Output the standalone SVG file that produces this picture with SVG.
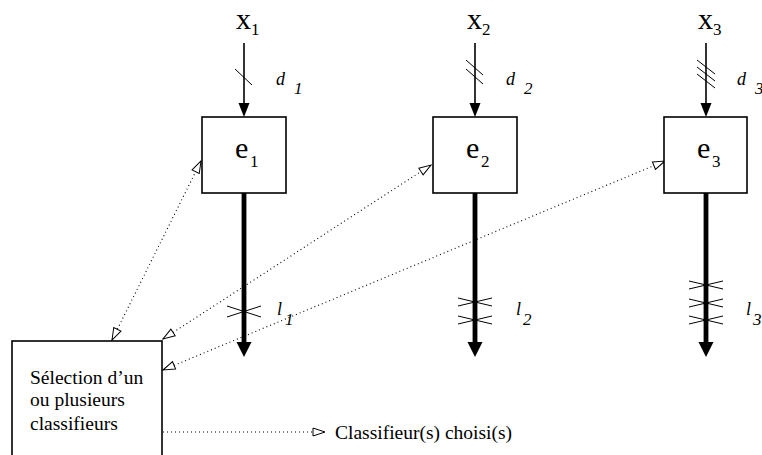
<svg xmlns="http://www.w3.org/2000/svg" width="762" height="455" viewBox="0 0 762 455">
<style>
  .box { fill: #fff; stroke: #000; stroke-width: 1.6; }
  text { font-family: "Liberation Serif", "DejaVu Serif", serif; fill: #000; }
  .big { font-size: 30px; }
  .sub { font-size: 17px; }
  .it { font-style: italic; font-size: 17px; }
  .itb { font-style: italic; font-size: 18px; }
  .lbl { font-size: 19.5px; }
  .in { stroke: #000; stroke-width: 1.6; fill: none; }
  .out { stroke: #000; stroke-width: 4.8; fill: none; }
  .tick { stroke: #000; stroke-width: 1; fill: none; }
  .dot { stroke: #000; stroke-width: 1.1; stroke-dasharray: 1 3; fill: none; }
  .dotarr { marker-end: url(#open); }
  .dotboth { marker-start: url(#openS); marker-end: url(#open); }
</style>
<defs>
  <marker id="open" markerUnits="userSpaceOnUse" markerWidth="16" markerHeight="12" refX="13" refY="5" orient="auto" overflow="visible">
    <path d="M1,1 L13,5 L1,9 Z" fill="#fff" stroke="#000" stroke-width="1" stroke-dasharray="none"/>
  </marker>
  <marker id="openS" markerUnits="userSpaceOnUse" markerWidth="16" markerHeight="12" refX="13" refY="5" orient="auto-start-reverse" overflow="visible">
    <path d="M1,1 L13,5 L1,9 Z" fill="#fff" stroke="#000" stroke-width="1" stroke-dasharray="none"/>
  </marker>
</defs>

<g id="connectors">
  <line class="in" x1="244" y1="43" x2="244" y2="104"/>
  <path d="M238.5,103 L249.5,103 L244,117 Z" fill="#000"/>
  <line class="in" x1="475" y1="43" x2="475" y2="104"/>
  <path d="M469.5,103 L480.5,103 L475,117 Z" fill="#000"/>
  <line class="in" x1="706" y1="43" x2="706" y2="104"/>
  <path d="M700.5,103 L711.5,103 L706,117 Z" fill="#000"/>
  <line class="tick" x1="235" y1="69" x2="252" y2="85"/>
  <line class="tick" x1="466" y1="60" x2="483" y2="75"/>
  <line class="tick" x1="466" y1="69" x2="483" y2="84"/>
  <line class="tick" x1="697" y1="60" x2="715" y2="74"/>
  <line class="tick" x1="697" y1="67" x2="715" y2="81"/>
  <line class="tick" x1="697" y1="74" x2="715" y2="88"/>
  <line class="out" x1="244" y1="193" x2="244" y2="344"/>
  <path d="M236.5,342 L251.5,342 L244,357 Z" fill="#000"/>
  <line class="out" x1="475" y1="193" x2="475" y2="344"/>
  <path d="M467.5,342 L482.5,342 L475,357 Z" fill="#000"/>
  <line class="out" x1="706" y1="193" x2="706" y2="344"/>
  <path d="M698.5,342 L713.5,342 L706,357 Z" fill="#000"/>
  <path class="tick" d="M227,306 L261,317 M227,317 L261,306"/>
  <path class="tick" d="M458,298 L492,306 M458,306 L492,298"/>
  <path class="tick" d="M458,316 L492,324 M458,324 L492,316"/>
  <path class="tick" d="M689,281 L723,289 M689,289 L723,281"/>
  <path class="tick" d="M689,299 L723,307 M689,307 L723,299"/>
  <path class="tick" d="M689,316 L723,324 M689,324 L723,316"/>
  <line class="dot dotboth" x1="112" y1="340" x2="201" y2="161"/>
  <line class="dot dotboth" x1="163" y1="339" x2="431" y2="165"/>
  <line class="dot dotboth" x1="163" y1="370" x2="665" y2="161"/>
  <line class="dot dotarr" x1="163" y1="432" x2="325" y2="432"/>
</g>

<g id="x1"><text class="big" x="236" y="29">x</text><text class="sub" x="251" y="35">1</text></g>
<g id="x2"><text class="big" x="467" y="29">x</text><text class="sub" x="482" y="35">2</text></g>
<g id="x3"><text class="big" x="698" y="29">x</text><text class="sub" x="713" y="35">3</text></g>

<g id="d1"><text class="itb" x="276" y="85">d</text><text class="it" x="294" y="94">1</text></g>
<g id="d2"><text class="itb" x="506" y="85">d</text><text class="it" x="524" y="94">2</text></g>
<g id="d3"><text class="itb" x="737" y="85">d</text><text class="it" x="755" y="94">3</text></g>

<g id="e1"><rect class="box" x="202" y="117" width="84" height="76"/><text class="big" x="235" y="158">e</text><text class="sub" x="250" y="167">1</text></g>
<g id="e2"><rect class="box" x="433" y="117" width="84" height="76"/><text class="big" x="466" y="158">e</text><text class="sub" x="481" y="167">2</text></g>
<g id="e3"><rect class="box" x="664" y="117" width="83" height="76"/><text class="big" x="697" y="158">e</text><text class="sub" x="712" y="167">3</text></g>

<g id="l1"><text class="itb" x="277" y="315">l</text><text class="it" x="285" y="325">1</text></g>
<g id="l2"><text class="itb" x="516" y="315">l</text><text class="it" x="523" y="325">2</text></g>
<g id="l3"><text class="itb" x="746" y="315">l</text><text class="it" x="753" y="325">3</text></g>

<g id="selection">
  <rect class="box" x="12" y="341" width="150" height="130"/>
  <text class="lbl" x="30" y="384">Sélection d’un</text>
  <text class="lbl" x="30" y="406">ou plusieurs</text>
  <text class="lbl" x="30" y="430">classifieurs</text>
</g>

<g id="output"><text class="lbl" x="335" y="439">Classifieur(s) choisi(s)</text></g>
</svg>
